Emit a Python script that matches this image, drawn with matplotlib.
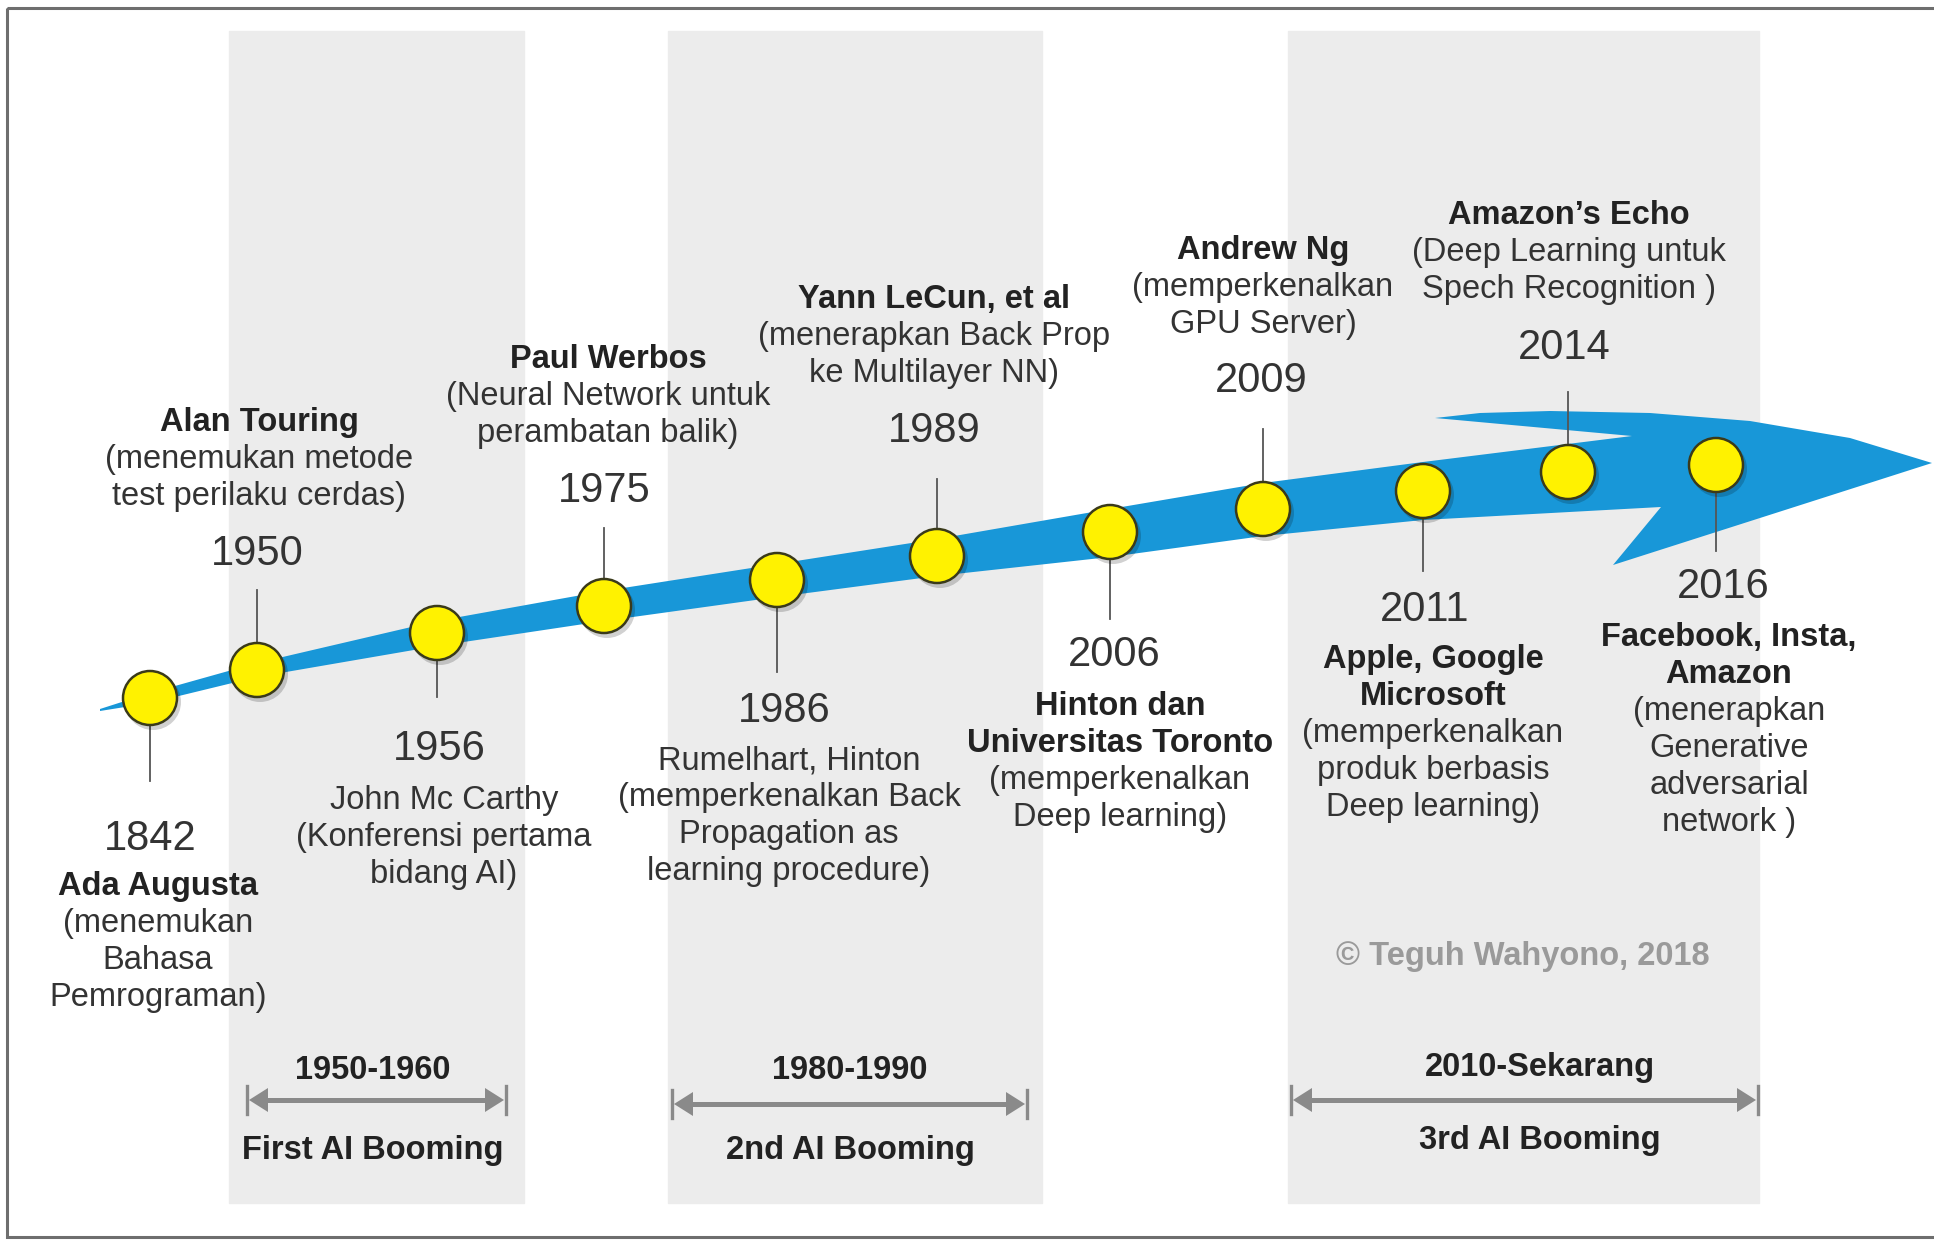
import matplotlib
matplotlib.use("Agg")
import matplotlib.pyplot as plt
from matplotlib import font_manager
from matplotlib.patches import Ellipse, Polygon, Rectangle

# --- timeline data -------------------------------------------------------
years = ["1842", "1950", "1956", "1975", "1986", "1989",
         "2006", "2009", "2011", "2014", "2016"]
heads = [
    ["Ada Augusta"],
    ["Alan Touring"],
    [],
    ["Paul Werbos"],
    [],
    ["Yann LeCun, et al"],
    ["Hinton dan", "Universitas Toronto"],
    ["Andrew Ng"],
    ["Apple, Google", "Microsoft"],
    ["Amazon\u2019s Echo"],
    ["Facebook, Insta,", "Amazon"],
]
notes = [
    ["(menemukan", "Bahasa", "Pemrograman)"],
    ["(menemukan metode", "test perilaku cerdas)"],
    ["John Mc Carthy", "(Konferensi pertama", "bidang AI)"],
    ["(Neural Network untuk", "perambatan balik)"],
    ["Rumelhart, Hinton", "(memperkenalkan Back", "Propagation as", "learning procedure)"],
    ["(menerapkan Back Prop", "ke Multilayer NN)"],
    ["(memperkenalkan", "Deep learning)"],
    ["(memperkenalkan", "GPU Server)"],
    ["(memperkenalkan", "produk berbasis", "Deep learning)"],
    ["(Deep Learning untuk", "Spech Recognition )"],
    ["(menerapkan", "Generative", "adversarial", "network )"],
]
side = ["down", "up", "down", "up", "down", "up", "down", "up", "down", "up", "down"]

# layout of the timeline (pixel space of the 1934x1240 picture)
dot_x = [150, 257, 437, 604, 777, 937, 1110, 1263, 1423, 1568, 1716]
dot_y = [698, 670, 633, 606, 580, 556, 532, 509, 491, 472, 465]
stem_end = [781, 590, 697, 528, 672, 479, 619, 429, 571, 392, 551]
year_x = [150, 257, 439, 604, 784, 934, 1114, 1261, 1425, 1564, 1723]
year_y = [835, 550, 745, 487, 707, 427, 651, 377, 606, 344, 583]
text_x = [158, 259, 444, 608, 789, 934, 1120, 1263, 1433, 1569, 1729]
text_y0 = [883, 419, 797, 356, 757, 296, 703, 247, 656, 212, 634]

# eras
era_ranges = ["1950-1960", "1980-1990", "2010-Sekarang"]
era_names = ["First AI Booming", "2nd AI Booming", "3rd AI Booming"]
band_x0 = [229, 668, 1288]
band_x1 = [524, 1042, 1759]
span_x0 = [247, 672, 1291]
span_x1 = [506, 1027, 1758]
span_y = [1100, 1104, 1100]
era_cx = [373, 850, 1540]
range_y = [1066, 1066, 1063]
name_y = [1146, 1146, 1136]

# blue arrow outline
shaft_top = [(100, 709), (150, 693), (257, 663), (437, 621), (604, 591), (777, 564),
             (937, 539), (1110, 509), (1263, 483), (1423, 462), (1632, 436)]
head_outline = [(1435, 418), (1480, 413), (1550, 411), (1650, 413), (1750, 421),
                (1850, 438), (1932, 463), (1613, 565), (1661, 507)]
shaft_bottom = [(1423, 520), (1263, 536), (1110, 557), (937, 576), (777, 597),
                (604, 621), (437, 646), (257, 677), (150, 703), (100, 711)]

W, H = 1934, 1240
names = {f.name for f in font_manager.fontManager.ttflist}
FAM = "Liberation Sans"
NARROW = "Liberation Sans Narrow" in names
NFAM = "Liberation Sans Narrow" if NARROW else FAM
NSIZE = 29 if NARROW else 23.5

TXT = "#333333"
BODY = 23.5
YEAR = 30
LINE = 37

fig = plt.figure(figsize=(W / 100, H / 100), dpi=100)
ax = fig.add_axes([0, 0, 1, 1])
ax.set_xlim(0, W)
ax.set_ylim(H, 0)
ax.axis("off")

# grey era bands
for x0, x1 in zip(band_x0, band_x1):
    ax.add_patch(Rectangle((x0, 31), x1 - x0, 1203 - 31, color="#ececec", zorder=0))

# frame
ax.add_patch(Rectangle((7, 8), W, 1229, fill=False, ec="#6e6e6e", lw=2.2, zorder=1))

# arrow
ax.add_patch(Polygon(shaft_top + head_outline + shaft_bottom, closed=True,
                     fc="#1897d8", ec="none", zorder=2))

# stems, dots, years, descriptions
for i, yr in enumerate(years):
    ax.plot([dot_x[i], dot_x[i]], [dot_y[i], stem_end[i]], color="#555555", lw=1.3, zorder=3)
    ax.add_patch(Ellipse((dot_x[i] + 3, dot_y[i] + 4), 56, 56, fc="#000000", alpha=0.18,
                         ec="none", zorder=4))
    ax.add_patch(Ellipse((dot_x[i], dot_y[i]), 54, 54, fc="#fff200", ec="#3a3a1a",
                         lw=1.8, zorder=5))
    ax.text(year_x[i], year_y[i] + 15, yr, fontsize=YEAR, family=FAM, color=TXT,
            ha="center", va="baseline", zorder=6)
    lines = [(t, "bold") for t in heads[i]] + [(t, "normal") for t in notes[i]]
    for k, (t, w) in enumerate(lines):
        ax.text(text_x[i], text_y0[i] + k * LINE + 12, t, fontsize=BODY, family=FAM,
                weight=w, color="#222222" if w == "bold" else TXT,
                ha="center", va="baseline", zorder=6)

# era spans
GREY = "#8a8a8a"
for i in range(len(era_names)):
    x0, x1, y = span_x0[i], span_x1[i], span_y[i]
    hl, hw = 19, 12
    ax.plot([x0 + hl - 2, x1 - hl + 2], [y, y], color=GREY, lw=3.6, solid_capstyle="butt", zorder=3)
    ax.add_patch(Polygon([(x0 + 2, y), (x0 + 2 + hl, y - hw), (x0 + 2 + hl, y + hw)],
                         fc=GREY, ec="none", zorder=3))
    ax.add_patch(Polygon([(x1 - 2, y), (x1 - 2 - hl, y - hw), (x1 - 2 - hl, y + hw)],
                         fc=GREY, ec="none", zorder=3))
    for xe in (x0, x1):
        ax.plot([xe, xe], [y - 14, y + 14], color=GREY, lw=2.4, zorder=3)
    ax.text(era_cx[i], range_y[i] + 13, era_ranges[i], fontsize=NSIZE, family=NFAM,
            weight="bold", color="#222222", ha="center", va="baseline", zorder=6)
    ax.text(era_cx[i], name_y[i] + 13, era_names[i], fontsize=NSIZE, family=NFAM,
            weight="bold", color="#222222", ha="center", va="baseline", zorder=6)

ax.text(1523, 952 + 13, "\u00a9 Teguh Wahyono, 2018", fontsize=NSIZE, family=NFAM,
        weight="bold", color="#9a9a9a", ha="center", va="baseline", zorder=6)

fig.savefig("out.png", dpi=100)
